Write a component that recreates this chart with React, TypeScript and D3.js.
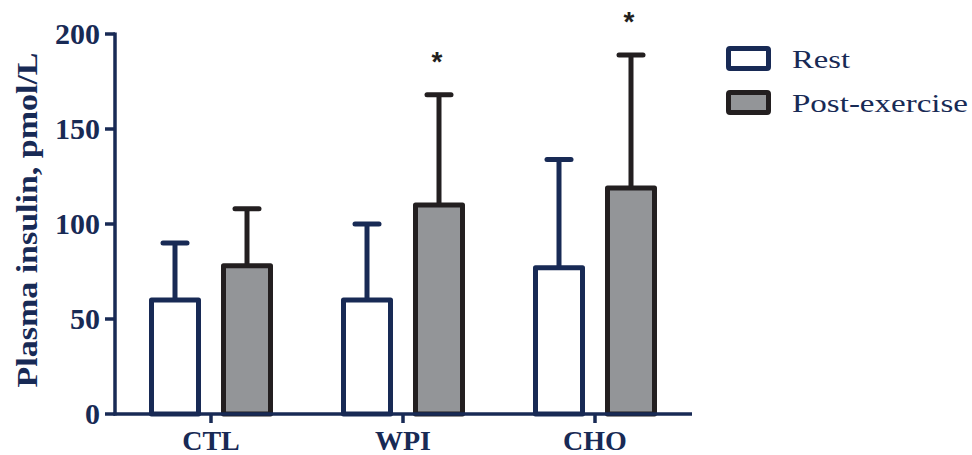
import React from "react";
import * as d3 from "d3";

const categories = ["CTL", "WPI", "CHO"];
const series = ["Rest", "Post-exercise"];
const restMean = [60, 60, 77];
const restErr = [90, 100, 134];
const postMean = [78, 110, 119];
const postErr = [108, 168, 189];
const significant = [false, true, true];
const yTicks = [0, 50, 100, 150, 200];

const NAVY = "#182a55";
const DARK = "#231f20";
const GRAY = "#939598";

export default function App() {
  const W = 972, H = 455;
  const x = d3.scaleBand<string>().domain(categories).range([115, 691]).padding(0);
  const y = d3.scaleLinear().domain([0, 200]).range([414, 34]);
  const barW = 47;
  const off = 36;
  const capW = 24;
  const sw = 5;

  const groups = [
    { name: series[0], mean: restMean, err: restErr, fill: "#ffffff", stroke: NAVY, dx: -off, len: 58 },
    { name: series[1], mean: postMean, err: postErr, fill: GRAY, stroke: DARK, dx: off, len: 176 },
  ];

  return (
    <svg width={W} height={H} style={{ position: "absolute", left: 0, top: 0 }}>
      <rect width={W} height={H} fill="#fff" />
      {groups.map((g, gi) =>
        categories.map((c, i) => {
          const cx = (x(c) as number) + x.bandwidth() / 2 + g.dx;
          const top = y(g.mean[i]);
          const et = y(g.err[i]);
          return (
            <g key={gi + "-" + c}>
              <line x1={cx} x2={cx} y1={top} y2={et} stroke={g.stroke} strokeWidth={sw} />
              <line x1={cx - capW / 2} x2={cx + capW / 2} y1={et} y2={et} stroke={g.stroke} strokeWidth={sw} strokeLinecap="round" />
              <rect x={cx - barW / 2} y={top} width={barW} height={y(0) - top} fill={g.fill} stroke={g.stroke} strokeWidth={sw} strokeLinejoin="round" />
            </g>
          );
        })
      )}
      {categories.map((c, i) =>
        significant[i] ? (
          <text key={"s" + c} x={(x(c) as number) + x.bandwidth() / 2 + off - 2} y={y(postErr[i]) - 24} textAnchor="middle"
            fontFamily="Liberation Sans, Arial, sans-serif" fontWeight="bold" fontSize={28} fill={DARK}>*</text>
        ) : null
      )}
      {/* axes */}
      <line x1={115} x2={115} y1={y(200) - 1.5} y2={y(0) + 1.5} stroke={NAVY} strokeWidth={3.5} />
      <line x1={113.5} x2={692} y1={y(0)} y2={y(0)} stroke={NAVY} strokeWidth={3.5} />
      {yTicks.map((t) => (
        <g key={"yt" + t}>
          <line x1={105} x2={115} y1={y(t)} y2={y(t)} stroke={NAVY} strokeWidth={3.5} />
          <text x={100} y={y(t)} dy="0.34em" textAnchor="end" fontFamily="Liberation Serif, Times New Roman, serif"
            fontWeight="bold" fontSize={30} fill={NAVY}>{t}</text>
        </g>
      ))}
      {categories.map((c) => {
        const cx = (x(c) as number) + x.bandwidth() / 2;
        return (
          <g key={"xt" + c}>
            <line x1={cx} x2={cx} y1={y(0)} y2={y(0) + 9} stroke={NAVY} strokeWidth={3.5} />
            <text x={cx} y={450} textAnchor="middle" fontFamily="Liberation Serif, Times New Roman, serif"
              fontWeight="bold" fontSize={28} fill={NAVY}>{c}</text>
          </g>
        );
      })}
      <text transform="translate(37,220) rotate(-90)" textAnchor="middle" fontFamily="Liberation Serif, Times New Roman, serif"
        fontWeight="bold" fontSize={30} fill={NAVY} textLength={335} lengthAdjust="spacingAndGlyphs">Plasma insulin, pmol/L</text>
      {/* legend */}
      {groups.map((g, gi) => (
        <g key={"lg" + gi} transform={`translate(0, ${gi * 44})`}>
          <rect x={728.5} y={48.5} width={40} height={20} fill={g.fill} stroke={g.stroke} strokeWidth={5} rx={1.5} />
          <text x={792} y={67.5} fontFamily="Liberation Serif, Times New Roman, serif" fontSize={26} fill={NAVY}
            textLength={g.len} lengthAdjust="spacingAndGlyphs">{g.name}</text>
        </g>
      ))}
    </svg>
  );
}
